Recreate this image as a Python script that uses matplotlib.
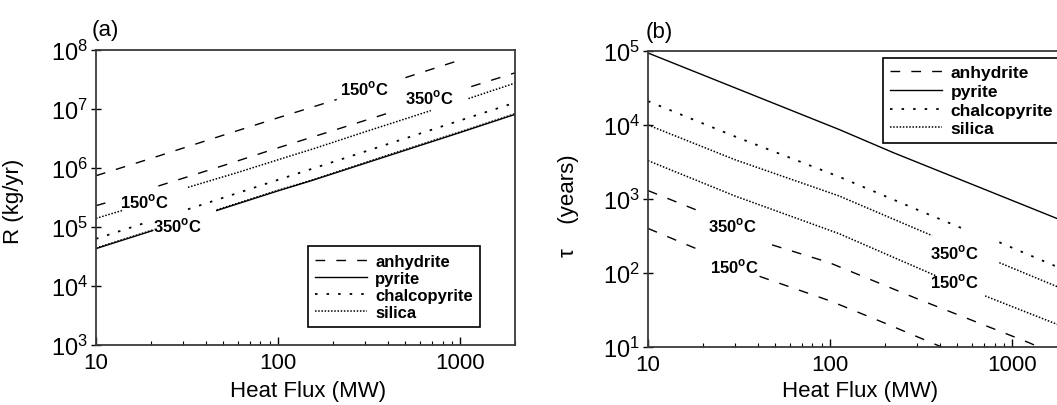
import numpy as np
import matplotlib.pyplot as plt
from matplotlib.ticker import LogLocator, NullLocator, FixedLocator, FixedFormatter

plt.rcParams['font.family'] = ['Liberation Sans', 'DejaVu Sans']
plt.rcParams['mathtext.fontset'] = 'custom'
plt.rcParams['mathtext.rm'] = 'Liberation Sans'
plt.rcParams['mathtext.bf'] = 'Liberation Sans:bold'

nan = np.nan

# ---- panel (a): R (kg/yr) vs heat flux (MW); nan = gap left for a label
a_anhy150_x = [10, 20, 50, 100, 210, nan, 500, 975]
a_anhy150_y = [7.4e5, 1.45e6, 3.6e6, 7.1e6, 1.45e7, nan, 3.4e7, 6.6e7]
a_anhy350_x = [10, 11.5, nan, 22, 50, 100, 200, 445, nan, 1150, 2000]
a_anhy350_y = [2.3e5, 2.6e5, nan, 4.95e5, 1.1e6, 2.2e6, 4.3e6, 9.4e6, nan, 2.4e7, 4.1e7]
a_sil150_x = [10, 13.9, nan, 32, 60, 100, 155, 300, 690, nan, 1110, 2000]
a_sil150_y = [1.4e5, 1.9e5, nan, 4.7e5, 8.4e5, 1.38e6, 2.1e6, 4.1e6, 9.4e6, nan, 1.5e7, 2.75e7]
a_chalco_x = [10, 19, nan, 32, 100, 300, 1000, 2000]
a_chalco_y = [6.3e4, 1.2e5, nan, 2.0e5, 6.3e5, 1.9e6, 6.4e6, 1.28e7]
a_pyr_x = [10, 20.5, nan, 46, 100, 155, 400, 1000, 2000]
a_pyr_y = [4.3e4, 8.7e4, nan, 1.9e5, 4.1e5, 6.2e5, 1.6e6, 4.0e6, 8.1e6]
a_sil350_x = [10, 20.5, nan, 46, 100, 155, 400, 1000, 2000]
a_sil350_y = [4.4e4, 8.9e4, nan, 1.95e5, 4.2e5, 6.3e5, 1.65e6, 4.1e6, 8.3e6]

# ---- panel (b): tau (years) vs heat flux (MW)
b_pyr_x = [10, 112, 224, 1700, 2000]
b_pyr_y = [9.4e4, 8.7e3, 4.2e3, 565, 480]
b_chalco_x = [10, 30, 112, 300, 575, nan, 850, 1700, 2000]
b_chalco_y = [2.1e4, 7.0e3, 2.0e3, 720, 370, nan, 260, 126, 108]
b_sil350_x = [10, 30, 112, 363, nan, 850, 1700, 2000]
b_sil350_y = [1.0e4, 3.4e3, 1.1e3, 320, nan, 138, 68, 58]
b_sil150_x = [10, 30, 112, 380, nan, 710, 1700, 2000]
b_sil150_y = [3.3e3, 1.1e3, 340, 92, nan, 49, 21, 18]
b_anhy350_x = [10, 19, nan, 48, 99, 300, 1230, 1400]
b_anhy350_y = [1.3e3, 690, nan, 240, 138, 45, 11.5, 10]
b_anhy150_x = [10, 19.6, nan, 41, 100, 200, 410]
b_anhy150_y = [400, 200, nan, 90, 42, 21, 10]

# temperature labels: (text, x, y)
a_notes = [('150', 300, 2.3e7), ('350', 680, 1.6e7), ('150', 18.5, 2.8e5), ('350', 28, 1.07e5)]
b_notes = [('350', 29, 450), ('150', 30, 124), ('350', 482, 190), ('150', 482, 78)]

DASH = (0, (7, 8))
SPARSE = (0, (1.4, 5.0))
DENSE = (0, (1, 1.1))
LW = 1.0

fig = plt.figure(figsize=(10.57, 4.06), dpi=100)
W = 419 / 1057
axa = fig.add_axes([96 / 1057, 1 - 346 / 406, W, 295 / 406])
axb = fig.add_axes([648 / 1057, 1 - 348 / 406, W, 296 / 406])


def style(ax, ylim):
    ax.set_xscale('log')
    ax.set_yscale('log')
    ax.set_xlim(10, 2000)
    ax.set_ylim(*ylim)
    ax.xaxis.set_major_locator(FixedLocator([10, 100, 1000]))
    ax.xaxis.set_major_formatter(FixedFormatter(['10', '100', '1000']))
    ax.xaxis.set_minor_locator(LogLocator(base=10, subs=np.arange(2, 10)))
    ax.yaxis.set_major_locator(LogLocator(base=10, numticks=10))
    ax.yaxis.set_minor_locator(NullLocator())
    ax.tick_params(axis='x', which='major', direction='in', length=6, width=1,
                   labelsize=16, pad=5, top=False)
    ax.tick_params(axis='x', which='minor', direction='in', length=3, width=0.8, top=False)
    ax.tick_params(axis='y', which='major', direction='inout', length=7, width=1,
                   labelsize=17, pad=2, right=False)
    for s in ax.spines.values():
        s.set_color('#3a3a3a')
        s.set_linewidth(1.3)
    ax.set_xlabel('Heat Flux (MW)', fontsize=16)


def note(ax, items):
    for t, x, y in items:
        ax.text(x, y, t + r'$^{\mathbf{o}}$C', fontsize=12, fontweight='bold',
                ha='center', va='center')


# panel (a)
axa.plot(a_anhy150_x, a_anhy150_y, color='k', lw=LW, ls=DASH, label='anhydrite')
axa.plot(a_anhy350_x, a_anhy350_y, color='k', lw=LW, ls=DASH)
axa.plot(a_pyr_x, a_pyr_y, color='k', lw=LW, ls='-', label='pyrite')
axa.plot(a_chalco_x, a_chalco_y, color='k', lw=LW + 0.3, ls=SPARSE, label='chalcopyrite')
axa.plot(a_sil150_x, a_sil150_y, color='k', lw=LW + 0.1, ls=DENSE, label='silica')
axa.plot(a_sil350_x, a_sil350_y, color='k', lw=LW + 0.1, ls=DENSE)
style(axa, (1e3, 1e8))
note(axa, a_notes)
axa.set_ylabel('R (kg/yr)', fontsize=16)
axa.yaxis.set_label_coords(-0.172, 0.49)
axa.xaxis.set_label_coords(0.505, -0.118)
axa.text(-0.01, 1.035, '(a)', transform=axa.transAxes, fontsize=16, va='bottom', ha='left')
lga = axa.legend(loc='upper left', bbox_to_anchor=(0.505, 0.335), borderaxespad=0,
                 prop={'weight': 'bold', 'size': 12}, handlelength=3.1,
                 handletextpad=0.5, labelspacing=0.12, borderpad=0.45,
                 fancybox=False, framealpha=1, edgecolor='k')
lga.get_frame().set_linewidth(1.2)

# panel (b)
axb.plot(b_anhy350_x, b_anhy350_y, color='k', lw=LW, ls=DASH, label='anhydrite')
axb.plot(b_anhy150_x, b_anhy150_y, color='k', lw=LW, ls=DASH)
axb.plot(b_pyr_x, b_pyr_y, color='k', lw=LW, ls='-', label='pyrite')
axb.plot(b_chalco_x, b_chalco_y, color='k', lw=LW + 0.3, ls=SPARSE, label='chalcopyrite')
axb.plot(b_sil350_x, b_sil350_y, color='k', lw=LW + 0.1, ls=DENSE, label='silica')
axb.plot(b_sil150_x, b_sil150_y, color='k', lw=LW + 0.1, ls=DENSE)
style(axb, (10, 1e5))
note(axb, b_notes)
axb.set_ylabel('τ    (years)', fontsize=16)
axb.yaxis.set_label_coords(-0.165, 0.48)
axb.xaxis.set_label_coords(0.505, -0.112)
axb.text(-0.005, 1.03, '(b)', transform=axb.transAxes, fontsize=16, va='bottom', ha='left')
lgb = axb.legend(loc='upper left', bbox_to_anchor=(0.56, 0.975), borderaxespad=0,
                 prop={'weight': 'bold', 'size': 12.5}, handlelength=3.0,
                 handletextpad=0.5, labelspacing=0.2, borderpad=0.4,
                 fancybox=False, framealpha=1, edgecolor='k')
lgb.get_frame().set_linewidth(1.2)

fig.savefig('out.png', dpi=100)
